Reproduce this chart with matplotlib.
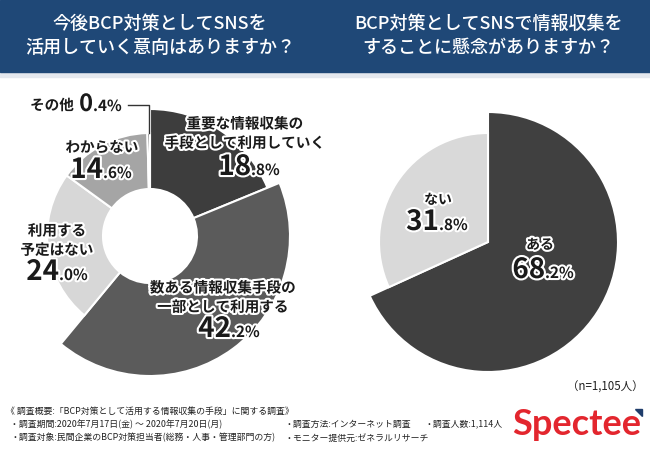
import matplotlib
matplotlib.use("Agg")
import numpy as np
import matplotlib.pyplot as plt
import matplotlib.patheffects as pe
from matplotlib.patches import Rectangle, Polygon

plt.rcParams["font.family"] = ["Noto Sans CJK JP", "DejaVu Sans"]

W, H = 650, 450

# Q1: 今後BCP対策としてSNSを活用していく意向
use_labels = ["重要な情報収集の\n手段として利用していく", "数ある情報収集手段の\n一部として利用する",
              "利用する\n予定はない", "わからない", "その他"]
use_values = [18.8, 42.2, 24.0, 14.6, 0.4]
use_colors = ["#3d3d3d", "#5b5b5b", "#d7d7d7", "#a5a5a5", "#3d3d3d"]
use_radii = [127, 140, 103, 103, 103]

# Q2: SNSで情報収集をすることに懸念
concern_labels = ["ある", "ない"]
concern_values = [68.2, 31.8]
concern_colors = ["#404040", "#d9d9d9"]
concern_radii = [130, 109]

titles = ["今後BCP対策としてSNSを\n活用していく意向はありますか？",
          "BCP対策としてSNSで情報収集を\nすることに懸念がありますか？"]
sample_note = "（n=1,105人）"
footer_head = "《 調査概要:「BCP対策として活用する情報収集の手段」に関する調査》"
footer_items = [
    ["・調査期間:2020年7月17日(金) ～ 2020年7月20日(月)", "・調査方法:インターネット調査", "・調査人数:1,114人"],
    ["・調査対象:民間企業のBCP対策担当者(総務・人事・管理部門の方)", "・モニター提供元:ゼネラルリサーチ", ""],
]

halo = [pe.withStroke(linewidth=3, foreground="white")]


def Y(y):
    # reference pixel rows run top-down
    return H - y


def ring(ax, values, colors, radii, center, hole=0):
    wedges, _ = ax.pie(values, colors=colors, startangle=90, counterclock=False,
                       center=center, radius=max(radii),
                       wedgeprops=dict(edgecolor="white", linewidth=1.5))
    for w, r in zip(wedges, radii):
        w.set_radius(r)
        if hole:
            w.set_width(r - hole)
    return wedges


def label(ax, x, y, text, size=10.5):
    ax.text(x, Y(y), text, ha="center", va="center", fontsize=size,
            fontweight="bold", linespacing=1.25, color="#1a1a1a", path_effects=halo)


def pct(ax, x, y, value, big=20, small=11):
    whole, frac = f"{value:.1f}".split(".")
    ax.text(x, Y(y), whole, ha="right", va="baseline", fontsize=big,
            fontweight="bold", color="#1a1a1a", path_effects=halo)
    ax.text(x, Y(y), "." + frac + "%", ha="left", va="baseline", fontsize=small,
            fontweight="bold", color="#1a1a1a", path_effects=halo)


fig = plt.figure(figsize=(W / 100, H / 100), dpi=100)
ax = fig.add_axes([0, 0, 1, 1])

# header band
ax.add_patch(Rectangle((0, Y(77)), W, 5, color="#e4e8ee", zorder=0))
ax.add_patch(Rectangle((0, Y(72)), W, 72, color="#1f4877", zorder=0))
ax.text(160, Y(36), titles[0], ha="center", va="center", color="white",
        fontsize=13, fontweight="medium", linespacing=1.45)
ax.text(488, Y(36), titles[1], ha="center", va="center", color="white",
        fontsize=13, fontweight="medium", linespacing=1.45)

# left donut
lc = (150, Y(236))
use_w = ring(ax, use_values, use_colors, use_radii, lc, hole=47)
label(ax, 245, 133, use_labels[0])
pct(ax, 251, 175, use_values[0])
label(ax, 223, 297, use_labels[1])
pct(ax, 231, 337, use_values[1])
label(ax, 57, 240, use_labels[2])
pct(ax, 59, 280, use_values[2])
label(ax, 102, 147, use_labels[3])
pct(ax, 103, 178, use_values[3])
# その他 with leader line
ax.text(52, Y(105), use_labels[4], ha="center", va="center", fontsize=10.5,
        fontweight="bold", color="#1a1a1a", path_effects=halo)
pct(ax, 93, 111, use_values[4], big=17, small=11)
w = use_w[4]
mid = np.deg2rad((w.theta1 + w.theta2) / 2)
ex = lc[0] + w.r * np.cos(mid)
ey = lc[1] + w.r * np.sin(mid)
ax.plot([128, ex, ex], [Y(105), Y(105), ey], color="#333333", lw=1)

# right pie
rc = (488, Y(242))
ring(ax, concern_values, concern_colors, concern_radii, rc)
label(ax, 540, 245, concern_labels[0], size=10)
pct(ax, 545, 278, concern_values[0])
label(ax, 438, 200, concern_labels[1], size=10)
pct(ax, 439, 230, concern_values[1])

# footer
ax.text(644, Y(387), sample_note, ha="right", va="center", fontsize=8.3, color="#222222")
ax.text(6, Y(411), footer_head, ha="left", va="center", fontsize=6.4, color="#222222")
cols = [10, 284, 425]
for row, yy in zip(footer_items, [424, 438]):
    for x, t in zip(cols, row):
        ax.text(x, Y(yy), t, ha="left", va="center", fontsize=6.4, color="#222222")

ax.text(577, Y(435), "Spectee", ha="center", va="baseline", fontsize=26,
        fontweight="bold", family="Lato", color="#e3262e")
ax.add_patch(Polygon([[635, Y(409)], [642, Y(409)], [642, Y(416)]], closed=True,
                     color="#1f3d6b"))

ax.set_xlim(0, W)
ax.set_ylim(0, H)
ax.set_aspect("equal")
ax.axis("off")

fig.savefig("out.png", dpi=100)
